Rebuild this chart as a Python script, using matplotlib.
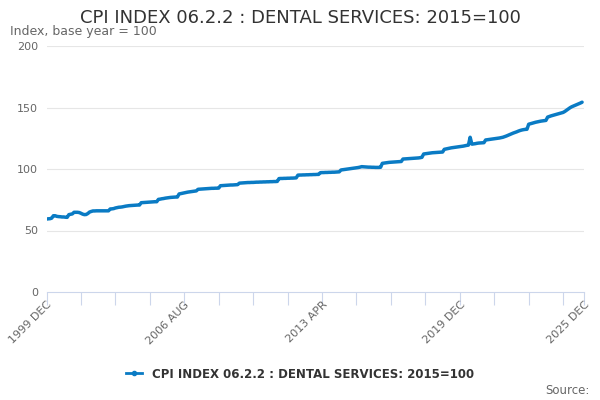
"""
CPI index 06.2.2 (dental services), monthly, Dec 1999 - Nov 2025.
"""

import numpy as np
import matplotlib
matplotlib.use('Agg')
import matplotlib.pyplot as plt
from matplotlib.lines import Line2D

# monthly index values (2015=100)
idx_2000s = [59.3,
             59.5, 59.6, 60.0, 62.0, 62.0, 61.5, 61.3, 61.2, 61.0, 61.0, 60.8, 60.7,
             62.9, 63.2, 63.5, 64.8, 64.8, 64.8, 64.6, 64.0, 63.3, 62.9, 63.0, 63.8,
             65.0, 65.5, 65.9, 65.9, 66.0, 66.0, 66.0, 66.0, 66.0, 66.0, 66.0, 66.0,
             67.5, 67.6, 67.8, 68.3, 68.6, 68.9, 69.0, 69.2, 69.5, 69.8, 70.0, 70.2,
             70.3, 70.4, 70.5, 70.6, 70.7, 70.7, 72.6, 72.7, 72.8, 72.9, 73.0, 73.1,
             73.2, 73.3, 73.4, 73.4, 75.3, 75.5, 75.8, 76.0, 76.3, 76.5, 76.7, 76.9,
             77.0, 77.1, 77.2, 77.2, 79.7, 80.0, 80.3, 80.6, 80.9, 81.2, 81.4, 81.6,
             81.8, 82.0, 82.2, 83.5, 83.6, 83.7, 83.8, 83.9, 84.0, 84.1, 84.2, 84.3,
             84.3, 84.4, 84.4, 84.5, 86.4, 86.5, 86.6, 86.7, 86.8, 86.9, 87.0, 87.0,
             87.1, 87.2, 87.3, 88.5, 88.6, 88.7, 88.8, 88.9, 89.0, 89.0, 89.1, 89.1]

idx_2010s = [89.2, 89.3, 89.3, 89.4, 89.4, 89.5, 89.5, 89.6, 89.6, 89.7, 89.7, 89.8,
             89.8, 89.9, 92.2, 92.3, 92.3, 92.4, 92.4, 92.5, 92.5, 92.6, 92.6, 92.7,
             92.8, 95.0, 95.1, 95.1, 95.2, 95.2, 95.3, 95.3, 95.4, 95.4, 95.5, 95.5,
             95.6, 95.6, 97.0, 97.1, 97.1, 97.2, 97.2, 97.3, 97.3, 97.4, 97.4, 97.5,
             97.6, 97.7, 99.2, 99.4, 99.6, 99.8, 100.0, 100.2, 100.4, 100.6, 100.8, 101.0,
             101.2, 101.5, 101.9, 101.8, 101.7, 101.6, 101.5, 101.5, 101.4, 101.4, 101.3, 101.3,
             101.3, 101.4, 104.6, 104.8, 105.0, 105.2, 105.4, 105.5, 105.6, 105.7, 105.8, 105.9,
             106.0, 106.1, 108.1, 108.2, 108.3, 108.4, 108.5, 108.6, 108.7, 108.8, 108.9, 109.0,
             109.2, 109.5, 112.2, 112.4, 112.6, 112.8, 113.0, 113.2, 113.3, 113.4, 113.5, 113.6,
             113.7, 113.8, 116.0, 116.3, 116.6, 116.9, 117.2, 117.4, 117.6, 117.8, 118.0, 118.2]

idx_2020s = [118.4, 118.6, 118.9, 119.2, 119.4, 125.8, 120.2, 120.4, 120.6, 120.9, 121.1, 121.2,
             121.3, 121.4, 123.6, 123.8, 124.0, 124.2, 124.4, 124.6, 124.8, 125.0, 125.2, 125.5,
             125.8, 126.3, 126.8, 127.4, 128.0, 128.6, 129.2, 129.7, 130.2, 130.8, 131.3, 131.7,
             132.0, 132.2, 132.3, 136.4, 136.8, 137.2, 137.6, 138.0, 138.3, 138.6, 138.9, 139.1,
             139.3, 139.5, 142.2, 142.7, 143.2, 143.6, 144.0, 144.4, 144.8, 145.2, 145.6, 146.0,
             146.8, 147.8, 148.8, 149.8, 150.6, 151.2, 151.8, 152.4, 153.0, 153.6, 154.3]

tick_months = [0, 20, 40, 60, 80, 100, 120, 140, 160, 180, 200, 220, 240,
               260, 280, 300, 312]
label_months = [0, 80, 160, 240, 312]
tick_labels = ['1999 DEC', '2006 AUG', '2013 APR', '2019 DEC', '2025 DEC']
y_ticks = [0, 50, 100, 150, 200]

values = np.array(idx_2000s + idx_2010s + idx_2020s)
months = np.arange(len(values))

color = '#0a7bc4'
grey = '#666666'
axis_col = '#ccd6eb'

fig = plt.figure(figsize=(6, 4), dpi=100)
ax = fig.add_axes([0.0775, 0.27, 0.8955, 0.615])

ax.plot(months, values, color=color, lw=2.5, solid_capstyle='round',
        solid_joinstyle='round', zorder=3)

ax.set_xlim(0, 312)
ax.set_ylim(0, 200)

ax.set_yticks(y_ticks)
ax.set_yticklabels([str(v) for v in y_ticks], color=grey, fontsize=8)
ax.tick_params(axis='y', length=0, pad=6)
for v in y_ticks[1:]:
    ax.axhline(v, color='#e6e6e6', lw=0.8, zorder=1)

ax.set_xticks(tick_months)
ax.set_xticklabels(['' for _ in tick_months])
ax.tick_params(axis='x', length=9, width=0.8, color=axis_col)
for m, lab in zip(label_months, tick_labels):
    ax.text(m, -6, lab, rotation=45, ha='right', va='top', fontsize=8,
            color=grey, rotation_mode='anchor',
            transform=ax.transData, clip_on=False)

for side in ['top', 'right', 'left']:
    ax.spines[side].set_visible(False)
ax.spines['bottom'].set_color(axis_col)
ax.spines['bottom'].set_linewidth(0.8)

fig.text(0.5, 0.955, 'CPI INDEX 06.2.2 : DENTAL SERVICES: 2015=100',
         ha='center', va='center', fontsize=13, color='#333333')
fig.text(0.017, 0.92, 'Index, base year = 100', ha='left', va='center',
         fontsize=9, color=grey)

handle = Line2D([], [], color=color, lw=2, marker='o', markersize=3)
fig.legend([handle], ['CPI INDEX 06.2.2 : DENTAL SERVICES: 2015=100'],
           loc='center', bbox_to_anchor=(0.5, 0.065), frameon=False,
           prop={'size': 8.5, 'weight': 'bold'}, handlelength=1.4,
           labelcolor='#333333')
fig.text(0.983, 0.025, 'Source:', ha='right', va='center', fontsize=8.5,
         color=grey)

fig.savefig('out.png', dpi=100)
